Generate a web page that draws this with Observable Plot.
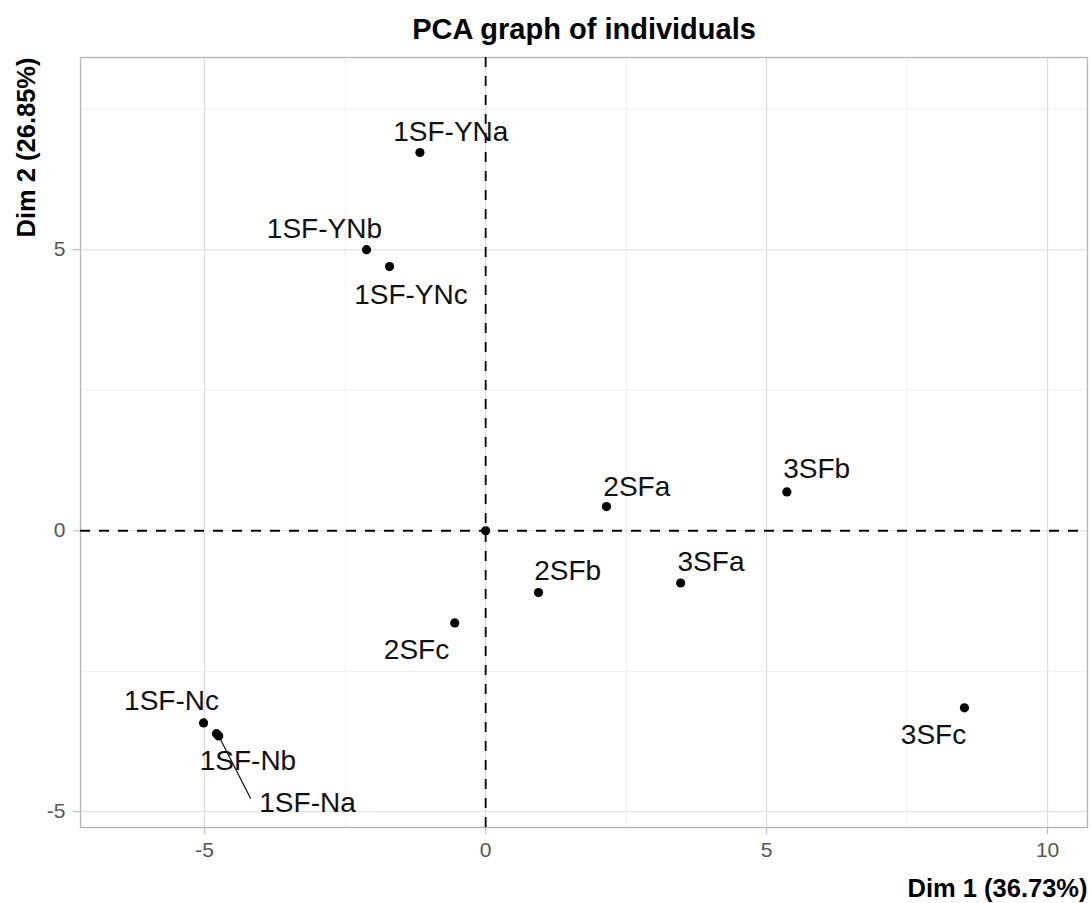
<!DOCTYPE html>
<html><head><meta charset="utf-8">
<script src="https://cdn.jsdelivr.net/npm/d3@7"></script>
<script src="https://cdn.jsdelivr.net/npm/@observablehq/plot@0.6"></script>
<style>
body{margin:0;background:#fff}
svg{font-family:"Liberation Sans",Arial,sans-serif}
</style>
</head><body><div id="chart"></div>
<script>
// Individuals (point coordinates on Dim 1 / Dim 2)
const names = ["1SF-YNa","1SF-YNb","1SF-YNc","2SFa","3SFb","","2SFb","3SFa","2SFc","1SF-Nc","1SF-Nb","1SF-Na","3SFc"];
const dim1  = [-1.17, -2.12, -1.71, 2.15, 5.36, 0.00, 0.94, 3.47, -0.55, -5.02, -4.79, -4.75, 8.52];
const dim2  = [ 6.73,  5.00,  4.70, 0.43, 0.69, 0.00, -1.10, -0.93, -1.64, -3.42, -3.61, -3.65, -3.15];
// Repelled label positions (data units)
const labelDim1 = [-0.62, -2.87, -1.33, 2.69, 5.89, null, 1.46, 4.01, -1.23, -5.59, -4.23, -3.17, 7.97];
const labelDim2 = [ 7.10,  5.36,  4.19, 0.78, 1.10, null, -0.72, -0.56, -2.12, -3.03, -4.10, -4.85, -3.64];
// Repel segment (from point to label)
const segName = ["1SF-Na"];
const segEndDim1 = [-4.18];
const segEndDim2 = [-4.77];

const xTicks = [-5, 0, 5, 10];
const yTicks = [-5, 0, 5];
const xMinor = [-2.5, 2.5, 7.5];
const yMinor = [-2.5, 2.5, 7.5];
const xDomain = [-7.21, 10.71];
const yDomain = [-5.28, 8.42];

const title = "PCA graph of individuals";
const xLabel = "Dim 1 (36.73%)";
const yLabel = "Dim 2 (26.85%)";

const points = names.map((n, i) => ({name: n, x: dim1[i], y: dim2[i], lx: labelDim1[i], ly: labelDim2[i]}));
const labels = points.filter(d => d.name !== "");
const segs = segName.map((n, i) => {
  const p = points.find(d => d.name === n);
  return {x1: p.x, y1: p.y, x2: segEndDim1[i], y2: segEndDim2[i]};
});

const chart = Plot.plot({
  width: 1091,
  height: 903,
  marginLeft: 80,
  marginRight: 4,
  marginTop: 57,
  marginBottom: 76,
  x: {domain: xDomain},
  y: {domain: yDomain},
  style: {fontFamily: '"Liberation Sans", Arial, sans-serif', background: "#fff"},
  marks: [
    Plot.gridX(xMinor, {stroke: "#ebebeb", strokeOpacity: 1, strokeWidth: 0.8}),
    Plot.gridY(yMinor, {stroke: "#ebebeb", strokeOpacity: 1, strokeWidth: 0.8}),
    Plot.gridX(xTicks, {stroke: "#dcdcdc", strokeOpacity: 1, strokeWidth: 1.1}),
    Plot.gridY(yTicks, {stroke: "#dcdcdc", strokeOpacity: 1, strokeWidth: 1.1}),
    Plot.frame({stroke: "#b3b3b3", strokeWidth: 1.3}),
    Plot.ruleX([0], {stroke: "#000", strokeWidth: 1.8, strokeDasharray: "10,9"}),
    Plot.ruleY([0], {stroke: "#000", strokeWidth: 1.8, strokeDasharray: "10,9"}),
    Plot.axisX(xTicks, {tickSize: 7, tickPadding: 8, stroke: "#b3b3b3", fill: "#555", fontSize: 21, label: null, tickFormat: d => String(d)}),
    Plot.axisY(yTicks, {tickSize: 7, tickPadding: 8, stroke: "#b3b3b3", fill: "#555", fontSize: 21, label: null, tickFormat: d => String(d)}),
    Plot.link(segs, {x1: "x1", y1: "y1", x2: "x2", y2: "y2", stroke: "#000", strokeWidth: 1.1}),
    Plot.dot(points, {x: "x", y: "y", r: 4.6, fill: "#000", stroke: null}),
    Plot.text(labels, {x: "lx", y: "ly", text: "name", fontSize: 28, fill: "#111", textAnchor: "middle", lineAnchor: "middle"}),
    Plot.text([title], {frameAnchor: "top", dy: -28, lineAnchor: "middle", fontSize: 29, fontWeight: "bold", fill: "#000"}),
    Plot.text([xLabel], {frameAnchor: "bottom-right", dy: 61, textAnchor: "end", lineAnchor: "middle", fontSize: 25.5, fontWeight: "bold", fill: "#000"}),
    Plot.text([yLabel], {frameAnchor: "top-left", dx: -54, rotate: -90, textAnchor: "end", lineAnchor: "middle", fontSize: 25.5, fontWeight: "bold", fill: "#000"})
  ]
});
document.getElementById("chart").appendChild(chart);
</script>
</body></html>
